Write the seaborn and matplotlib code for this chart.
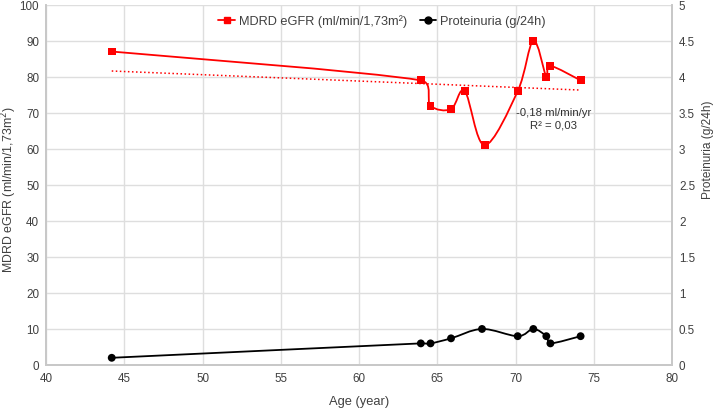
import numpy as np
import seaborn as sns
import matplotlib.pyplot as plt
from matplotlib.path import Path
from matplotlib.patches import PathPatch
from matplotlib.lines import Line2D

# Data
age = [44.2, 63.95, 64.57, 65.88, 66.76, 68.03, 70.14, 71.14, 71.97, 72.23, 74.16]
egfr = [87, 79, 72, 71, 76, 61, 76, 90, 80, 83, 79]
prot_age = [44.2, 63.95, 64.57, 65.88, 67.86, 70.14, 71.14, 71.97, 72.23, 74.16]
proteinuria = [0.1, 0.3, 0.3, 0.37, 0.5, 0.4, 0.5, 0.4, 0.3, 0.4]
trend_text = "-0,18 ml/min/yr\nR² = 0,03"

sns.set_theme(style="whitegrid")
plt.rcParams['font.family'] = ['Liberation Sans', 'DejaVu Sans']
text_color = '#404040'
grid_color = '#dedede'


def smooth_line(ax, xs, ys, color, lw=1.3, clamp=0.5):
    # Excel-like smoothed line: Bezier segments built in display space
    pts = ax.transData.transform(np.column_stack([xs, ys]))
    n = len(pts)
    verts = [pts[0]]
    codes = [Path.MOVETO]
    for i in range(n - 1):
        p0 = pts[max(i - 1, 0)]
        p1 = pts[i]
        p2 = pts[i + 1]
        p3 = pts[min(i + 2, n - 1)]
        seg = np.hypot(*(p2 - p1))
        t1 = (p2 - p0) / 6
        t2 = (p3 - p1) / 6
        for t in (t1, t2):
            L = np.hypot(*t)
            if L > clamp * seg and L > 0:
                t *= clamp * seg / L
        verts += [p1 + t1, p2 - t2, p2]
        codes += [Path.CURVE4] * 3
    verts = ax.transData.inverted().transform(np.array(verts))
    ax.add_patch(PathPatch(Path(verts, codes), fill=False, edgecolor=color,
                           lw=lw, zorder=3, capstyle='round'))


fig = plt.figure(figsize=(7.22, 4.10), dpi=100)
ax = fig.add_axes([46 / 722, 1 - 366 / 410, 626 / 722, 360.3 / 410])
ax2 = ax.twinx()

ax.set_xlim(40, 80)
ax.set_ylim(0, 100)
ax2.set_ylim(0, 5)
ax.set_xticks(range(40, 81, 5))
ax.set_yticks(range(0, 101, 10))
ax2.set_yticks(np.arange(0, 5.01, 0.5))
ax2.set_yticklabels(['0', '0.5', '1', '1.5', '2', '2.5', '3', '3.5', '4', '4.5', '5'])

# trendline
sns.regplot(x=age, y=egfr, scatter=False, ci=None, ax=ax,
            line_kws=dict(color='red', ls=':', lw=1.1, zorder=2))

# eGFR series
smooth_line(ax, age, egfr, 'red')
sns.scatterplot(x=age, y=egfr, ax=ax, marker='s', color='red', s=32,
                edgecolor='none', zorder=4)

# Proteinuria series
smooth_line(ax2, prot_age, proteinuria, 'black')
sns.scatterplot(x=prot_age, y=proteinuria, ax=ax2, marker='o', color='black',
                s=32, edgecolor='none', zorder=4)

ax.text(72.45, 68.4, trend_text, ha='center', va='center', fontsize=8.2,
        color='#303030', linespacing=1.35)

ax.grid(True, color=grid_color, lw=1)
ax2.grid(False)
for a in (ax, ax2):
    for side, spine in a.spines.items():
        spine.set_visible(side != 'top')
        spine.set_color('#c8c8c8')
    a.tick_params(length=0, labelsize=8.4, labelcolor=text_color, pad=5)

ax.set_xlabel('Age (year)', fontsize=9.3, color=text_color, labelpad=8)
ax.set_ylabel('MDRD eGFR (ml/min/1,73m$^2$)', fontsize=8.9, color=text_color,
              va='center')
ax.yaxis.set_label_coords(-0.0585, 0.49)
ax2.set_ylabel('Proteinuria (g/24h)', fontsize=8.6, color=text_color,
               va='center')
ax2.yaxis.set_label_coords(1.0575, 0.6)

handles = [
    Line2D([], [], color='red', marker='s', markersize=5, lw=1.3),
    Line2D([], [], color='black', marker='o', markersize=5, lw=1.3),
]
fig.legend(handles, ['MDRD eGFR (ml/min/1,73m²)', 'Proteinuria (g/24h)'],
           loc='center', bbox_to_anchor=(382 / 722, 1 - 21.7 / 410), ncol=2,
           frameon=False, fontsize=9.2, handlelength=1.3, handletextpad=0.3,
           columnspacing=1.0, labelcolor=text_color)

fig.savefig('out.png', dpi=100)
